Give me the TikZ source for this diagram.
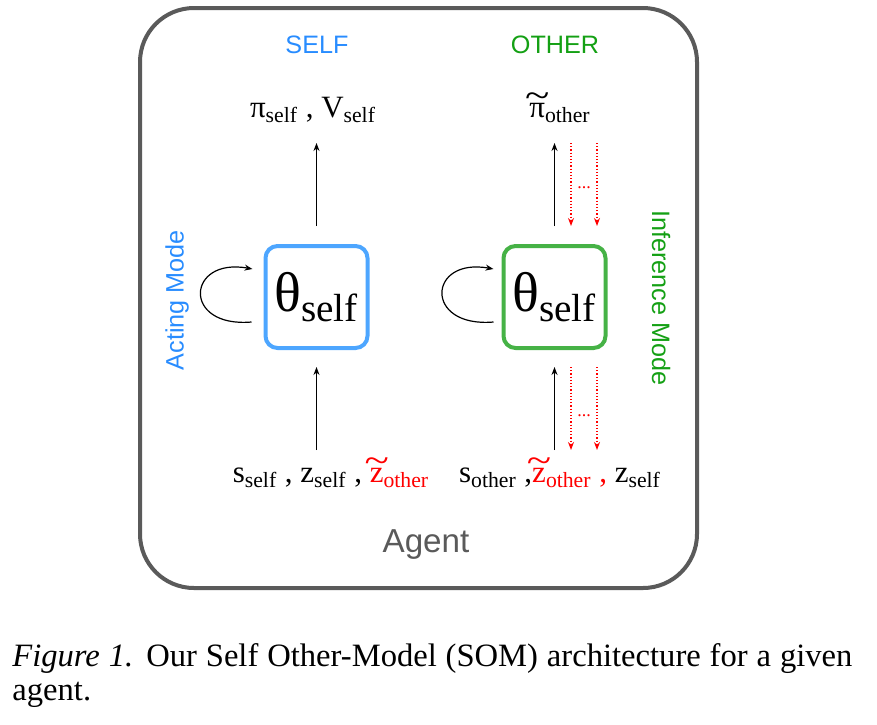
\documentclass[tikz,border=0pt]{standalone}
\usepackage{fontspec}
\setmainfont{Liberation Serif}
\newfontfamily\arialf{Liberation Sans}
\usepackage{graphicx}
\usetikzlibrary{arrows.meta,positioning,calc}
\definecolor{selfc}{RGB}{77,166,255}
\definecolor{selft}{RGB}{40,140,255}
\definecolor{otherc}{RGB}{70,178,70}
\definecolor{othert}{RGB}{20,160,20}
\definecolor{agentc}{RGB}{90,90,90}
\newcommand{\sbs}[1]{\textsubscript{#1}}
\newcommand{\tld}[1]{\ooalign{#1\cr\hidewidth\raisebox{0.30em}{\scalebox{1.45}[1.15]{\char`\~}}\hidewidth\cr}}
\tikzset{
	agentframe/.style={
		rectangle, minimum width=278.5pt, minimum height=290pt, rounded corners=27pt,
		line width=2pt, draw=agentc
	},
	%
	netbox/.style={
		rectangle, minimum size=51pt, rounded corners=6pt,
		line width=2pt, fill=white, font=\fontsize{28}{32}\selectfont
	},
	%
	headtext/.style={
		font=\arialf\fontsize{12.6}{14}\selectfont
	},
	%
	vartext/.style={
		inner sep=0pt, anchor=base, font=\fontsize{15.5}{18}\selectfont
	},
	%
	captext/.style={
		inner sep=0pt, anchor=base west, font=\fontsize{16.3}{19}\selectfont
	},
	%
	flow/.style={-{Stealth[length=4pt,width=3pt]}, semithick},
	backflow/.style={-{Stealth[length=4pt,width=3pt]}, red, densely dotted, semithick}
}

\begin{document}
\begin{tikzpicture}[x=0.5pt, y=-0.5pt]
\useasboundingbox (0,0) rectangle (877,724);

\node(agent)[agentframe] at (418.5,298) {};
\node(agentlabel)[font=\arialf\fontsize{16.6}{19}\selectfont, text=agentc] at (426,545) {Agent};

\node(selfhead)[headtext, text=selft] at (317,45) {SELF};
\node(otherhead)[headtext, text=othert] at (555,45) {OTHER};

\node(selfbox)[netbox, draw=selfc] at (316.5,297) {θ\sbs{self}};
\node(otherbox)[netbox, draw=otherc] at (554.5,297) {θ\sbs{self}};

\node(actmode)[headtext, text=selft, rotate=90] at (177,300) {Acting Mode};
\node(infmode)[headtext, text=othert, rotate=-90] at (661,298) {Inference Mode};

\node(selfout)[vartext] at (313,117) {π\sbs{self} , V\sbs{self}};
\node(otherout)[vartext] at (560,117) {\tld{π}\sbs{other}};

\node(selfin)[vartext] at (331,482) {s\sbs{self} , z\sbs{self} , \textcolor{red}{\tld{z}\sbs{other}}};
\node(otherin)[vartext] at (560,482) {s\sbs{other} ,\textcolor{red}{\tld{z}\sbs{other} ,} z\sbs{self}};

% outputs
\draw[flow, shorten <=9pt, shorten >=13pt] (selfbox.north) -- (selfbox.north |- selfout.base);
\draw[flow, shorten <=9pt, shorten >=13pt] (otherbox.north) -- (otherbox.north |- otherout.base);
\draw[backflow, shorten <=13pt, shorten >=9pt] ($(otherbox.north |- otherout.base)+(16.5,0)$) -- ($(otherbox.north)+(16.5,0)$);
\draw[backflow, shorten <=13pt, shorten >=9pt] ($(otherbox.north |- otherout.base)+(42.5,0)$) -- ($(otherbox.north)+(42.5,0)$);
\node(topdots)[text=red, font=\fontsize{9}{9}\selectfont] at (584,188) {...};

% inputs
\draw[flow, shorten <=16pt, shorten >=8.5pt] (selfbox.south |- selfin.base) -- (selfbox.south);
\draw[flow, shorten <=16pt, shorten >=8.5pt] (otherbox.south |- otherin.base) -- (otherbox.south);
\draw[backflow, shorten <=8.5pt, shorten >=16pt] ($(otherbox.south)+(16.5,0)$) -- ($(otherbox.south |- otherin.base)+(16.5,0)$);
\draw[backflow, shorten <=8.5pt, shorten >=16pt] ($(otherbox.south)+(42.5,0)$) -- ($(otherbox.south |- otherin.base)+(42.5,0)$);
\node(botdots)[text=red, font=\fontsize{9}{9}\selectfont] at (584,416) {...};

% recurrence
\draw[flow] ([xshift=-6pt, yshift=-12.5pt]selfbox.west) .. controls +(-35pt,-3pt) and +(-33pt,6pt) .. ([xshift=-5.5pt, yshift=14pt]selfbox.west);
\draw[flow] ([xshift=-4pt, yshift=-12.5pt]otherbox.west) .. controls +(-35pt,-3pt) and +(-33pt,6pt) .. ([xshift=-4pt, yshift=14pt]otherbox.west);

% caption
\node(caption)[captext] at (12,666) {\makebox[420pt][s]{\textit{Figure 1.} Our Self Other-Model (SOM) architecture for a given}};
\node(captiontail)[captext] at (12,700) {agent.};
\end{tikzpicture}
\end{document}
